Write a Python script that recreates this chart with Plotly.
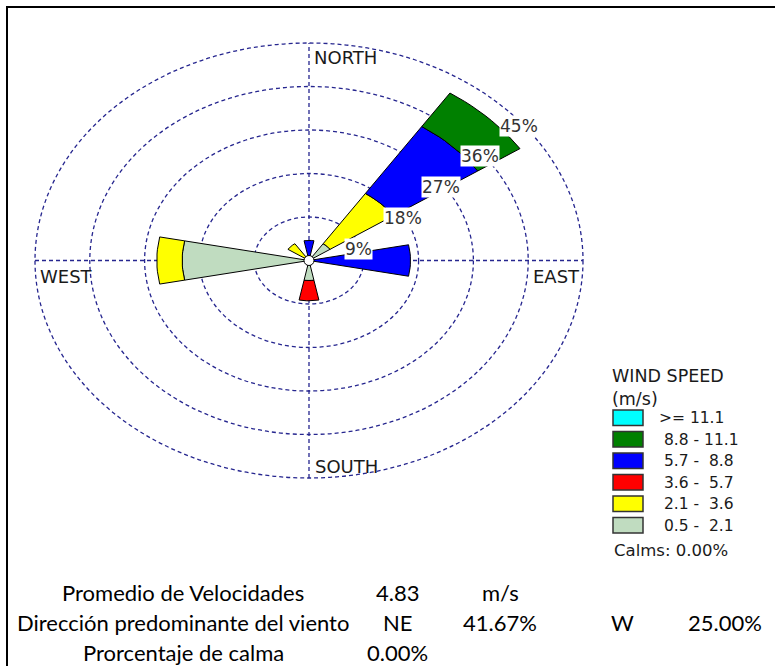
import numpy as np
import plotly.graph_objects as go

# ---------------------------------------------------------------- data
directions = ["N", "NNE", "NE", "ENE", "E", "ESE", "SE", "SSE",
              "S", "SSW", "SW", "WSW", "W", "WNW", "NW", "NNW"]

# frequency (%) of each speed class per direction
freq_05_21 = [0, 0, 4.17, 0, 0, 0, 0, 0, 4.17, 0, 0, 0, 20.83, 0, 0, 0]
freq_21_36 = [0, 0, 12.50, 0, 0, 0, 0, 0, 0, 0, 0, 0, 4.17, 0, 4.17, 0]
freq_36_57 = [0, 0, 0, 0, 0, 0, 0, 0, 4.17, 0, 0, 0, 0, 0, 0, 0]
freq_57_88 = [4.17, 0, 16.67, 0, 16.67, 0, 0, 0, 0, 0, 0, 0, 0, 0, 0, 0]
freq_88_111 = [0, 0, 8.33, 0, 0, 0, 0, 0, 0, 0, 0, 0, 0, 0, 0, 0]
freq_111_up = [0, 0, 0, 0, 0, 0, 0, 0, 0, 0, 0, 0, 0, 0, 0, 0]

speed_classes = [" 0.5 -  2.1", " 2.1 -  3.6", " 3.6 -  5.7",
                 " 5.7 -  8.8", " 8.8 - 11.1", ">= 11.1"]
class_colors = ["#C0DCC0", "#FFFF00", "#FF0000", "#0000FF", "#008000", "#00FFFF"]

ring_levels = [9, 18, 27, 36, 45]
ring_labels = ["9%", "18%", "27%", "36%", "45%"]
compass_labels = ["NORTH", "EAST", "SOUTH", "WEST"]
calms_pct = 0.00

summary_rows = [
    ["Promedio de Velocidades", "4.83", "m/s", "", ""],
    ["Dirección predominante del viento", "NE", "41.67%", "W", "25.00%"],
    ["Prorcentaje de calma", "0.00%", "", "", ""],
]

# ---------------------------------------------------------------- layout constants
W, H = 775, 666
CX, CY = 309, 260.5          # rose centre in pixels
RX, RY = 274, 217.5          # pixel length of the outer ring (horizontal / vertical)
R_MAX = ring_levels[-1]

x_range = [-CX / RX * R_MAX, (W - CX) / RX * R_MAX]
y_range = [-(H - CY) / RY * R_MAX, CY / RY * R_MAX]

RING_COLOR = "#26268F"
TEXT_COLOR = "#1A1A1A"
CHART_FONT = "DejaVu Sans"
TABLE_FONT = "Lato"


def px(x):
    return x / W


def py(y):
    return 1 - y / H


fig = go.Figure()

# ---------------------------------------------------------------- petals
series = [freq_05_21, freq_21_36, freq_36_57, freq_57_88, freq_88_111, freq_111_up]
sector = 360 / len(directions)
half = np.radians(sector / 2)

for d in range(len(directions)):
    theta = np.radians(d * sector)
    r_in = 0.0
    for k, vals in enumerate(series):
        v = vals[d]
        if v <= 0:
            continue
        r_out = r_in + v
        arc = np.linspace(theta - half, theta + half, 12)
        xs = list(r_out * np.sin(arc))
        ys = list(r_out * np.cos(arc))
        if r_in > 0:
            xs += list(r_in * np.sin(arc[::-1]))
            ys += list(r_in * np.cos(arc[::-1]))
        else:
            xs.append(0.0)
            ys.append(0.0)
        xs.append(xs[0])
        ys.append(ys[0])
        fig.add_trace(go.Scatter(
            x=xs, y=ys, mode="lines", fill="toself",
            fillcolor=class_colors[k],
            line=dict(color="#000000", width=1),
            hoverinfo="skip", showlegend=False,
        ))
        r_in = r_out

shapes = []

# ---------------------------------------------------------------- rings and axes
ring_line = dict(color=RING_COLOR, width=1.3, dash="4px,3px")
for r in ring_levels:
    shapes.append(dict(type="circle", xref="x", yref="y",
                       x0=-r, x1=r, y0=-r, y1=r, layer="below", line=ring_line))
shapes.append(dict(type="line", xref="x", yref="y", x0=-R_MAX, x1=R_MAX, y0=0, y1=0,
                   layer="below", line=ring_line))
shapes.append(dict(type="line", xref="x", yref="y", x0=0, x1=0, y0=-R_MAX, y1=R_MAX,
                   layer="below", line=ring_line))

# calm circle at the centre
shapes.append(dict(type="circle", xref="x", yref="y", xsizemode="pixel", ysizemode="pixel",
                   xanchor=0, yanchor=0, x0=-5, x1=5, y0=-5, y1=5, layer="above",
                   fillcolor="white", line=dict(color="#000000", width=1)))

# outer frame
shapes.append(dict(type="rect", xref="paper", yref="paper",
                   x0=px(7), x1=1.02, y0=-0.02, y1=py(7),
                   line=dict(color="#000000", width=2)))

annotations = []

# ring percentage labels along the NE ray
diag = np.radians(45)
for r, lab in zip(ring_levels, ring_labels):
    annotations.append(dict(
        x=r * np.sin(diag), y=r * np.cos(diag), xref="x", yref="y",
        text=lab, showarrow=False, xanchor="left", yanchor="top",
        xshift=-4, yshift=-8, bgcolor="white", borderpad=0,
        font=dict(family=CHART_FONT, size=17, color="#333333")))

# compass labels
compass_pos = [
    dict(x=0, y=R_MAX, xanchor="left", yanchor="top", xshift=3, yshift=-2),
    dict(x=R_MAX, y=0, xanchor="right", yanchor="top", xshift=-1, yshift=-3),
    dict(x=0, y=-R_MAX, xanchor="left", yanchor="bottom", xshift=4, yshift=-1),
    dict(x=-R_MAX, y=0, xanchor="left", yanchor="top", xshift=3, yshift=-3),
]
for lab, pos in zip(compass_labels, compass_pos):
    annotations.append(dict(text=lab, xref="x", yref="y", showarrow=False,
                            font=dict(family=CHART_FONT, size=18, color=TEXT_COLOR), **pos))

# ---------------------------------------------------------------- legend
LEG_X = 613
annotations.append(dict(text="WIND SPEED<br>(m/s)", x=px(LEG_X - 2), y=py(365),
                        xref="paper", yref="paper", xanchor="left", yanchor="top",
                        align="left", showarrow=False, borderpad=0,
                        font=dict(family=CHART_FONT, size=17.5, color=TEXT_COLOR)))
for i, k in enumerate(range(len(speed_classes) - 1, -1, -1)):
    top = 410 + i * 21.5
    shapes.append(dict(type="rect", xref="paper", yref="paper",
                       x0=px(LEG_X), x1=px(LEG_X + 30), y0=py(top + 15.5), y1=py(top),
                       fillcolor=class_colors[k], line=dict(color="#333333", width=1.5)))
    annotations.append(dict(text=speed_classes[k].replace(" ", "\u00a0"),
                            x=px(LEG_X + 44), y=py(top + 8), xref="paper", yref="paper",
                            xanchor="left", yanchor="middle", showarrow=False,
                            font=dict(family=CHART_FONT, size=15.5, color=TEXT_COLOR)))
annotations.append(dict(text=f"Calms:\u00a0{calms_pct:.2f}%", x=px(LEG_X - 1), y=py(550),
                        xref="paper", yref="paper", xanchor="left", yanchor="middle",
                        showarrow=False,
                        font=dict(family=CHART_FONT, size=16.5, color=TEXT_COLOR)))

# ---------------------------------------------------------------- summary table
col_x = [183, 397.5, 500, 622, 724.5]
row_y = [592, 622, 652]
for row, y in zip(summary_rows, row_y):
    for txt, x in zip(row, col_x):
        if not txt:
            continue
        annotations.append(dict(text=txt, x=px(x), y=py(y), xref="paper", yref="paper",
                                xanchor="center", yanchor="middle", showarrow=False,
                                font=dict(family=TABLE_FONT, size=22, color="#000000")))

fig.update_layout(
    width=W, height=H, autosize=False,
    margin=dict(l=0, r=0, t=0, b=0),
    paper_bgcolor="white", plot_bgcolor="white",
    xaxis=dict(range=x_range, visible=False, fixedrange=True),
    yaxis=dict(range=y_range, visible=False, fixedrange=True),
    shapes=shapes, annotations=annotations, showlegend=False,
)

fig.write_html("out.html")
